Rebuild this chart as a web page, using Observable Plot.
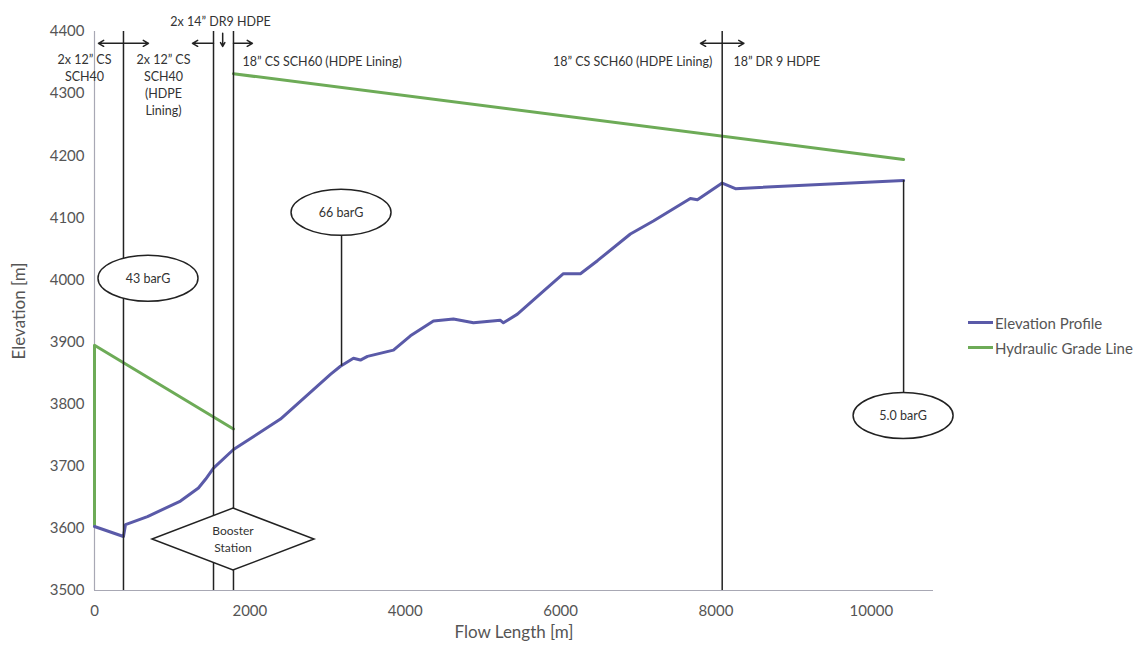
<!DOCTYPE html>
<html>
<head>
<meta charset="utf-8">
<script src="https://cdn.jsdelivr.net/npm/d3@7"></script>
<script src="https://cdn.jsdelivr.net/npm/@observablehq/plot@0.6"></script>
<style>
  body { margin: 0; background: #fff; font-family: Lato, "Open Sans", sans-serif; }
  #wrap { position: relative; width: 1139px; height: 648px; }
  #wrap svg { position: absolute; left: 0; top: 0; }
  #legend { position: absolute; left: 968px; top: 310px; font-size: 15px; color: #555; white-space: nowrap; }
  .row { display: flex; align-items: center; height: 25px; }
  .sw { width: 25px; height: 3px; margin-right: 2px; flex: none; }
</style>
</head>
<body>
<div id="wrap"><div id="legend"></div></div>
<script>
// Elevation profile along the pipeline (flow length in m, elevation in m)
const elevX = [0, 373, 399, 682, 1107, 1338, 1429, 1532, 1789, 2394, 3037, 3166, 3333, 3423, 3514,
  3848, 4067, 4363, 4620, 4878, 5225, 5264, 5444, 5779, 6036, 6255, 6474, 6898, 7194, 7670, 7761,
  8080, 8250, 10415];
const elevY = [3603, 3587, 3606, 3619, 3644, 3665, 3679, 3697, 3727, 3776, 3848, 3861, 3874, 3871, 3877,
  3887, 3910, 3934, 3937, 3931, 3935, 3931, 3945, 3982, 4010, 4010, 4031, 4074, 4095, 4131, 4129,
  4156, 4147, 4160];

// Hydraulic grade line: suction side, then discharge after the booster station
const hglSeg = ["suction", "suction", "suction", "discharge", "discharge"];
const hglX = [0, 0, 1789, 1789, 10415];
const hglY = [3605, 3895, 3760, 4332, 4194];

// Pipe section boundaries
const sectionX = [373, 1532, 1789, 8080];

// Pressure callouts
const calloutText = ["43 barG", "66 barG", "5.0 barG"];
const calloutX = [695, 3180, 10415];
const calloutY = [4002, 4108, 3781];
const leaderY = [null, 3861, 4160];

// Booster station
const boosterX = 1789, boosterY = 3582;
const boosterText = ["Booster", "Station"];

// Pipe specification labels
const specText = ["2x 12” CS\nSCH40", "2x 12” CS\nSCH40\n(HDPE\nLining)", "2x 14” DR9 HDPE",
  "18” CS SCH60 (HDPE Lining)", "18” CS SCH60 (HDPE Lining)", "18” DR 9 HDPE"];
const specX = [-129, 888, 1622, 1905, 7954, 8224];
const specY = [4367, 4367, 4418, 4353, 4353, 4353];
const specAnchor = ["middle", "middle", "middle", "start", "end", "start"];
const specLine = ["top", "top", "middle", "middle", "middle", "middle"];

// Arrows marking section changes
const arrowX1 = [373, 373, 1532, 1789, 8080, 8080, 1650];
const arrowX2 = [51, 695, 1261, 2033, 7800, 8360, 1650];
const arrowY1 = [4381, 4381, 4381, 4381, 4381, 4381, 4397];
const arrowY2 = [4381, 4381, 4381, 4381, 4381, 4381, 4376];

const xTicks = [0, 2000, 4000, 6000, 8000, 10000];
const yTicks = [3500, 3600, 3700, 3800, 3900, 4000, 4100, 4200, 4300, 4400];

const seriesNames = ["Elevation Profile", "Hydraulic Grade Line"];
const seriesColors = ["#5a5aa8", "#6dab57"];

const elev = elevX.map((x, i) => ({x, y: elevY[i]}));
const hgl = hglX.map((x, i) => ({x, y: hglY[i], seg: hglSeg[i]}));
const callouts = calloutText.map((t, i) => ({t, x: calloutX[i], y: calloutY[i], ly: leaderY[i]}));
const leaders = callouts.filter(d => d.ly != null);
const specs = specText.map((t, i) => ({t, x: specX[i], y: specY[i], a: specAnchor[i], l: specLine[i]}));
const arrows = arrowX1.map((x1, i) => ({x1, x2: arrowX2[i], y1: arrowY1[i], y2: arrowY2[i]}));

const ink = "#222";
const textColor = "#333";
const noteSize = 12.5;

// White-filled ellipses with their pressure text
function calloutMark(data) {
  return (index, scales) => {
    const g = d3.create("svg:g");
    for (const d of data) {
      const cx = scales.x(d.x), cy = scales.y(d.y);
      g.append("ellipse").attr("cx", cx).attr("cy", cy).attr("rx", 50).attr("ry", 23)
        .attr("fill", "white").attr("stroke", ink).attr("stroke-width", 1.5);
      g.append("text").attr("x", cx).attr("y", cy).attr("text-anchor", "middle")
        .attr("dy", "0.35em").attr("font-size", noteSize).attr("fill", textColor).text(d.t);
    }
    return g.node();
  };
}

// Diamond marking the booster station
function boosterMark() {
  return (index, scales) => {
    const g = d3.create("svg:g");
    const cx = scales.x(boosterX), cy = scales.y(boosterY);
    const w = 81, h = 31;
    g.append("polygon")
      .attr("points", [[cx, cy - h], [cx + w, cy], [cx, cy + h], [cx - w, cy]].map(p => p.join(",")).join(" "))
      .attr("fill", "white").attr("stroke", ink).attr("stroke-width", 1.5);
    boosterText.forEach((t, i) => {
      g.append("text").attr("x", cx).attr("y", cy + (i - 0.5) * 17).attr("dy", "0.35em")
        .attr("text-anchor", "middle").attr("font-size", 12).attr("fill", textColor).text(t);
    });
    return g.node();
  };
}

const specMarks = [];
for (const a of ["start", "middle", "end"]) {
  for (const l of ["top", "middle"]) {
    const sub = specs.filter(d => d.a === a && d.l === l);
    if (sub.length) specMarks.push(Plot.text(sub, {
      x: "x", y: "y", text: "t", textAnchor: a, lineAnchor: l, lineHeight: 1.36,
      fontSize: noteSize, fill: textColor
    }));
  }
}

const chart = Plot.plot({
  width: 1139,
  height: 648,
  marginLeft: 94,
  marginRight: 206,
  marginTop: 31,
  marginBottom: 58,
  style: {fontFamily: "Lato, 'Open Sans', sans-serif", background: "transparent", overflow: "visible"},
  x: {domain: [0, 10800]},
  y: {domain: [3500, 4400]},
  marks: [
    Plot.axisX({ticks: xTicks, tickSize: 0, tickPadding: 15, fontSize: 15, color: "#555", label: null, tickFormat: d => String(d)}),
    Plot.axisY({ticks: yTicks, tickSize: 0, tickPadding: 10, fontSize: 15, color: "#555", label: null, tickFormat: d => String(d)}),
    Plot.ruleY([3500], {stroke: "#a8a8b4", strokeWidth: 1.2}),
    Plot.ruleX([0], {stroke: "#a8a8b4", strokeWidth: 1.2}),
    Plot.line(hgl, {x: "x", y: "y", z: "seg", stroke: seriesColors[1], strokeWidth: 3}),
    Plot.line(elev, {x: "x", y: "y", stroke: seriesColors[0], strokeWidth: 3}),
    Plot.ruleX(sectionX, {y1: 3500, y2: 4400, stroke: ink, strokeWidth: 1.5}),
    Plot.ruleX(leaders, {x: "x", y1: "y", y2: "ly", stroke: ink, strokeWidth: 1.5}),
    calloutMark(callouts),
    boosterMark(),
    ...specMarks,
    Plot.arrow(arrows, {x1: "x1", y1: "y1", x2: "x2", y2: "y2", stroke: ink, strokeWidth: 1.5, headLength: 6}),
    Plot.text(["Flow Length [m]"], {frameAnchor: "bottom", dy: 47, fontSize: 17, fill: "#555"}),
    Plot.text(["Elevation [m]"], {frameAnchor: "left", textAnchor: "middle", dx: -75, rotate: -90, fontSize: 17, fill: "#555"})
  ]
});

const wrap = document.getElementById("wrap");
wrap.insertBefore(chart, wrap.firstChild);

const legend = document.getElementById("legend");
seriesNames.forEach((name, i) => {
  const row = document.createElement("div");
  row.className = "row";
  const sw = document.createElement("span");
  sw.className = "sw";
  sw.style.background = seriesColors[i];
  const label = document.createElement("span");
  label.textContent = name;
  row.append(sw, label);
  legend.append(row);
});
</script>
</body>
</html>
